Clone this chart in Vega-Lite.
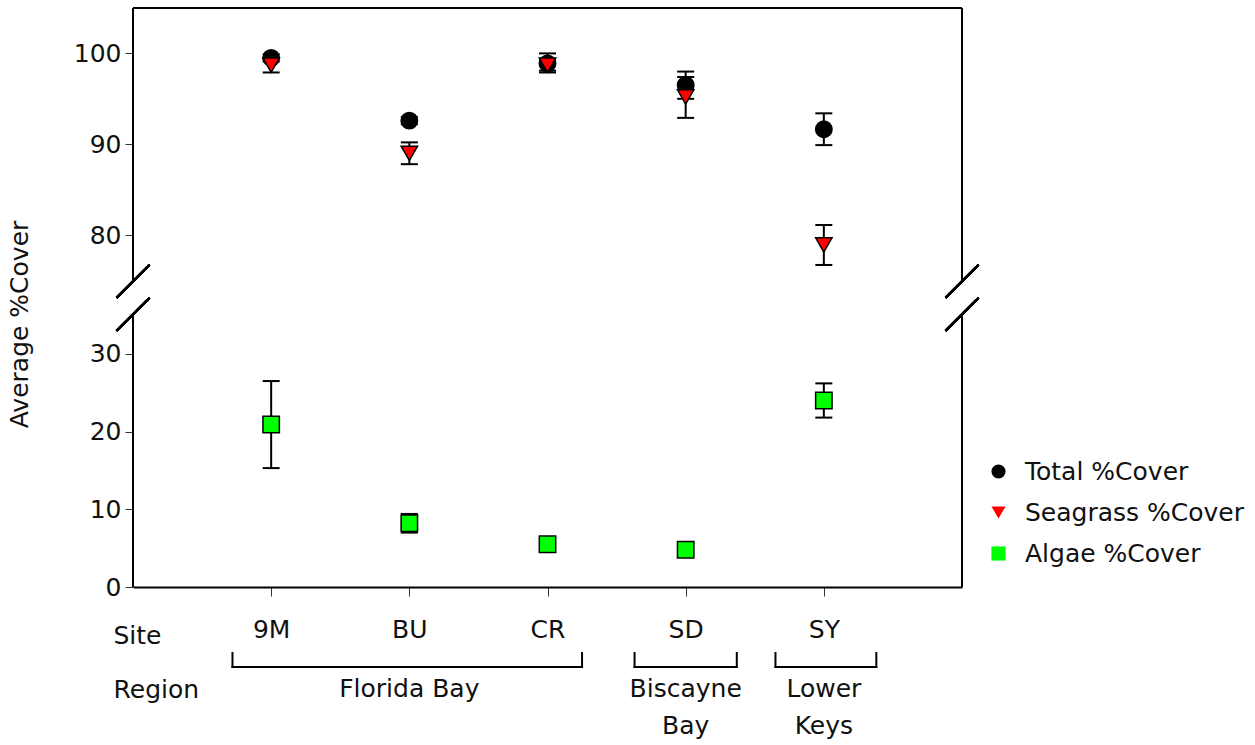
{
  "$schema": "https://vega.github.io/schema/vega-lite/v6.json",
  "padding": {"left": 7, "top": 7, "right": 5, "bottom": 0},
  "datasets": {
    "cover": [
      {"site": "9M", "pos": 1, "series": "Total %Cover", "mean": 99.5, "lo": 99.1, "hi": 99.9},
      {"site": "9M", "pos": 1, "series": "Seagrass %Cover", "mean": 98.7, "lo": 97.9, "hi": 99.5},
      {"site": "9M", "pos": 1, "series": "Algae %Cover", "mean": 20.9, "lo": 15.3, "hi": 26.5},
      {"site": "BU", "pos": 2, "series": "Total %Cover", "mean": 92.6, "lo": 92.2, "hi": 93.0},
      {"site": "BU", "pos": 2, "series": "Seagrass %Cover", "mean": 89.0, "lo": 87.8, "hi": 90.2},
      {"site": "BU", "pos": 2, "series": "Algae %Cover", "mean": 8.2, "lo": 7.0, "hi": 9.4},
      {"site": "CR", "pos": 3, "series": "Total %Cover", "mean": 98.9, "lo": 97.9, "hi": 100.0},
      {"site": "CR", "pos": 3, "series": "Seagrass %Cover", "mean": 98.7, "lo": 98.1, "hi": 99.3},
      {"site": "CR", "pos": 3, "series": "Algae %Cover", "mean": 5.5, "lo": 4.8, "hi": 6.2},
      {"site": "SD", "pos": 4, "series": "Total %Cover", "mean": 96.5, "lo": 95.0, "hi": 98.0},
      {"site": "SD", "pos": 4, "series": "Seagrass %Cover", "mean": 95.2, "lo": 92.9, "hi": 97.4},
      {"site": "SD", "pos": 4, "series": "Algae %Cover", "mean": 4.8, "lo": 4.6, "hi": 5.0},
      {"site": "SY", "pos": 5, "series": "Total %Cover", "mean": 91.65, "lo": 89.9, "hi": 93.4},
      {"site": "SY", "pos": 5, "series": "Seagrass %Cover", "mean": 78.9, "lo": 76.7, "hi": 81.1},
      {"site": "SY", "pos": 5, "series": "Algae %Cover", "mean": 24.0, "lo": 21.8, "hi": 26.2}
    ],
    "regions": [
      {"region": "Florida Bay", "label": "Florida Bay", "center": 2, "start": 0.72, "end": 3.25},
      {"region": "Biscayne Bay", "label": "Biscayne\nBay", "center": 4, "start": 3.63, "end": 4.37},
      {"region": "Lower Keys", "label": "Lower\nKeys", "center": 5, "start": 4.65, "end": 5.38}
    ]
  },
  "vconcat": [
    {
      "width": 829,
      "height": 579,
      "data": {"name": "cover"},
      "layer": [
        {
          "mark": {"type": "rule", "color": "black", "strokeWidth": 2},
          "encoding": {"x": {"datum": 0}, "y": {"datum": 0}, "y2": {"datum": 35}}
        },
        {
          "mark": {"type": "rule", "color": "black", "strokeWidth": 2},
          "encoding": {"x": {"datum": 0}, "y": {"datum": 75}, "y2": {"datum": 105}}
        },
        {
          "mark": {"type": "rule", "color": "black", "strokeWidth": 2},
          "encoding": {"x": {"datum": 6}, "y": {"datum": 0}, "y2": {"datum": 35}}
        },
        {
          "mark": {"type": "rule", "color": "black", "strokeWidth": 2},
          "encoding": {"x": {"datum": 6}, "y": {"datum": 75}, "y2": {"datum": 105}}
        },
        {
          "mark": {"type": "rule", "color": "black", "strokeWidth": 2},
          "encoding": {"x": {"datum": 0}, "x2": {"datum": 6}, "y": {"datum": 105}}
        },
        {
          "mark": {"type": "point", "shape": "M-1,0L1,-2M-1,2L1,0", "size": 1089, "stroke": "black", "strokeWidth": 2, "filled": false, "opacity": 1},
          "encoding": {"x": {"datum": 0}, "y": {"datum": 55}}
        },
        {
          "mark": {"type": "point", "shape": "M-1,0L1,-2M-1,2L1,0", "size": 1089, "stroke": "black", "strokeWidth": 2, "filled": false, "opacity": 1},
          "encoding": {"x": {"datum": 6}, "y": {"datum": 55}}
        },
        {
          "mark": {"type": "rule", "color": "black", "strokeWidth": 2},
          "encoding": {
            "x": {"field": "pos", "type": "quantitative"},
            "y": {"field": "lo", "type": "quantitative"},
            "y2": {"field": "hi"}
          }
        },
        {
          "mark": {"type": "tick", "orient": "horizontal", "size": 17, "thickness": 2, "color": "black", "opacity": 1},
          "encoding": {
            "x": {"field": "pos", "type": "quantitative"},
            "y": {"field": "lo", "type": "quantitative"}
          }
        },
        {
          "mark": {"type": "tick", "orient": "horizontal", "size": 17, "thickness": 2, "color": "black", "opacity": 1},
          "encoding": {
            "x": {"field": "pos", "type": "quantitative"},
            "y": {"field": "hi", "type": "quantitative"}
          }
        },
        {
          "mark": {"type": "point", "filled": true, "size": 270, "stroke": "black", "strokeWidth": 1.5, "opacity": 1},
          "encoding": {
            "x": {
              "field": "pos",
              "type": "quantitative",
              "scale": {"domain": [0, 6], "nice": false, "zero": false},
              "axis": {
                "values": [1, 2, 3, 4, 5],
                "labelExpr": "['', '9M', 'BU', 'CR', 'SD', 'SY', ''][datum.value]",
                "domain": true,
                "domainColor": "black",
                "domainWidth": 2,
                "tickSize": 9,
                "tickWidth": 1,
                "labelPadding": 21,
                "title": "Site",
                "titleX": -20,
                "titleY": 56,
                "titleAlign": "left",
                "titleAnchor": "start",
                "titleBaseline": "alphabetic"
              }
            },
            "y": {
              "field": "mean",
              "type": "quantitative",
              "scale": {"domain": [0, 35, 75, 105], "range": [579, 307, 272.4, 0], "nice": false, "zero": false},
              "axis": {
                "values": [0, 10, 20, 30, 80, 90, 100],
                "domain": false,
                "tickSize": 8,
                "tickWidth": 1,
                "labelPadding": 4,
                "title": "Average %Cover",
                "titleX": -105.5,
                "titleY": 316,
                "titleAlign": "center",
                "titleBaseline": "alphabetic"
              }
            },
            "shape": {
              "field": "series",
              "type": "nominal",
              "scale": {"domain": ["Total %Cover", "Seagrass %Cover", "Algae %Cover"], "range": ["circle", "triangle-down", "square"]},
              "legend": {"title": null, "orient": "none", "legendX": 853, "legendY": 451}
            },
            "fill": {
              "field": "series",
              "type": "nominal",
              "scale": {"domain": ["Total %Cover", "Seagrass %Cover", "Algae %Cover"], "range": ["#000000", "#ff0000", "#00ff00"]},
              "legend": {"title": null, "orient": "none", "legendX": 853, "legendY": 451}
            }
          }
        }
      ]
    },
    {
      "width": 829,
      "height": 14,
      "data": {"name": "regions"},
      "encoding": {
        "y": {
          "datum": 0,
          "type": "quantitative",
          "scale": {"domain": [0, 1], "nice": false, "zero": false},
          "axis": {
            "labels": false,
            "ticks": false,
            "domain": false,
            "title": "Region",
            "titleAngle": 0,
            "titleX": -20,
            "titleY": 44,
            "titleAlign": "left",
            "titleBaseline": "alphabetic"
          }
        }
      },
      "layer": [
        {
          "mark": {"type": "rule", "color": "black", "strokeWidth": 2, "strokeCap": "square"},
          "encoding": {
            "x": {"field": "start", "type": "quantitative", "scale": {"domain": [0, 6], "nice": false, "zero": false}, "axis": null},
            "x2": {"field": "end"}
          }
        },
        {
          "mark": {"type": "rule", "color": "black", "strokeWidth": 2, "strokeCap": "square"},
          "encoding": {
            "x": {"field": "start", "type": "quantitative"},
            "y2": {"datum": 1}
          }
        },
        {
          "mark": {"type": "rule", "color": "black", "strokeWidth": 2, "strokeCap": "square"},
          "encoding": {
            "x": {"field": "end", "type": "quantitative"},
            "y2": {"datum": 1}
          }
        },
        {
          "mark": {"type": "text", "fontSize": 25, "color": "#111111", "baseline": "alphabetic", "align": "center", "dy": 30, "lineBreak": "\n", "lineHeight": 36.5},
          "encoding": {
            "x": {"field": "center", "type": "quantitative"},
            "text": {"field": "label", "type": "nominal"}
          }
        }
      ]
    }
  ],
  "spacing": 66,
  "bounds": "flush",
  "config": {
    "font": "DejaVu Sans",
    "view": {"stroke": null},
    "axis": {
      "labelFont": "DejaVu Sans",
      "titleFont": "DejaVu Sans",
      "labelFontSize": 25,
      "titleFontSize": 25,
      "titleFontWeight": "normal",
      "labelColor": "#111111",
      "titleColor": "#111111",
      "tickColor": "#333333",
      "grid": false
    },
    "legend": {
      "labelFont": "DejaVu Sans",
      "labelFontSize": 25,
      "labelColor": "#111111",
      "labelLimit": 0,
      "symbolSize": 200,
      "symbolStrokeColor": "black",
      "symbolStrokeWidth": 1.5,
      "symbolOpacity": 1,
      "rowPadding": 15,
      "labelOffset": 14,
      "padding": 0
    }
  }
}
